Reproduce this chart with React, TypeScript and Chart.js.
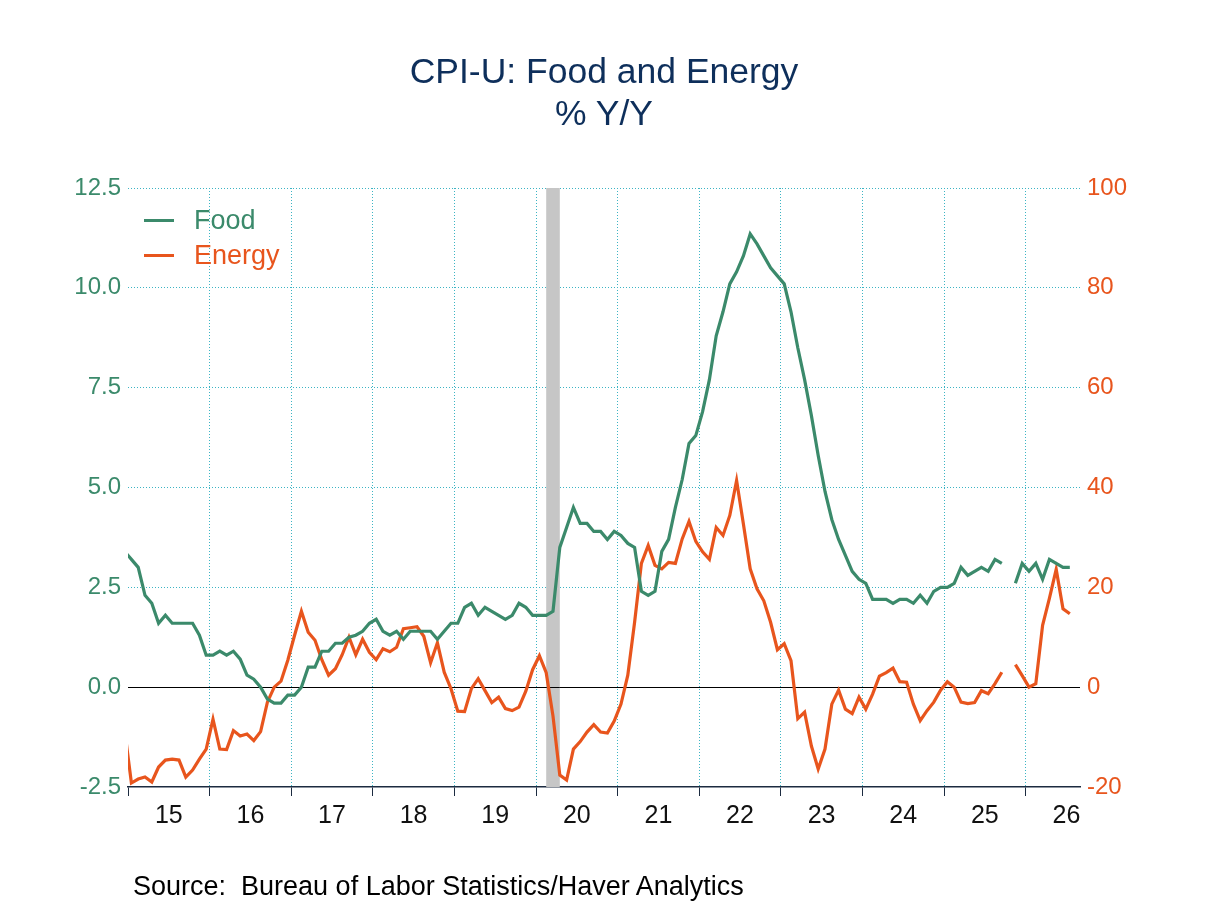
import { useEffect, useRef } from "react";
import { Chart, registerables, type Plugin } from "chart.js";

Chart.register(...registerables);

const FONT = "'Liberation Sans', Arial, Helvetica, sans-serif";

// monthly observations, Dec 2014 .. Jul 2026 (Oct 2025 not published)
const FIRST_YEAR = 2014;
const FIRST_MONTH = 12;

const YEAR_LABELS = ["15", "16", "17", "18", "19", "20", "21", "22", "23", "24", "25", "26"];

// % Y/Y, left axis
const FOOD = [
  3.4,
  3.2, 3.0, 2.3, 2.1, 1.6, 1.8, 1.6, 1.6, 1.6, 1.6, 1.3, 0.8,
  0.8, 0.9, 0.8, 0.9, 0.7, 0.3, 0.2, 0.0, -0.3, -0.4, -0.4, -0.2,
  -0.2, 0.0, 0.5, 0.5, 0.9, 0.9, 1.1, 1.1, 1.25, 1.3, 1.4, 1.6,
  1.7, 1.4, 1.3, 1.4, 1.2, 1.4, 1.4, 1.4, 1.4, 1.2, 1.4, 1.6,
  1.6, 2.0, 2.1, 1.8, 2.0, 1.9, 1.8, 1.7, 1.8, 2.1, 2.0, 1.8,
  1.8, 1.8, 1.9, 3.5, 4.0, 4.5, 4.1, 4.1, 3.9, 3.9, 3.7, 3.9,
  3.8, 3.6, 3.5, 2.4, 2.3, 2.4, 3.4, 3.7, 4.5, 5.2, 6.1, 6.3,
  6.9, 7.7, 8.8, 9.4, 10.1, 10.4, 10.8, 11.35, 11.1, 10.8, 10.5, 10.3,
  10.1, 9.4, 8.5, 7.7, 6.8, 5.8, 4.9, 4.2, 3.7, 3.3, 2.9, 2.7,
  2.6, 2.2, 2.2, 2.2, 2.1, 2.2, 2.2, 2.1, 2.3, 2.1, 2.4, 2.5,
  2.5, 2.6, 3.0, 2.8, 2.9, 3.0, 2.9, 3.2, 3.1, null, 2.6, 3.1,
  2.9, 3.1, 2.7, 3.2, 3.1, 3.0, 3.0,
];

// % Y/Y, right axis
const ENERGY = [
  -8.5,
  -19.2, -18.4, -18.0, -19.0, -16.0, -14.6, -14.4, -14.6, -18.0, -16.6, -14.4, -12.4,
  -6.4, -12.4, -12.5, -8.7, -9.8, -9.4, -10.7, -8.9, -3.0, 0.0, 1.2, 5.4,
  10.4, 15.2, 11.0, 9.4, 5.5, 2.4, 3.7, 6.5, 10.0, 6.5, 9.6, 7.0,
  5.5, 7.7, 7.1, 8.0, 11.7, 11.9, 12.1, 10.2, 4.9, 8.9, 3.0, -0.3,
  -4.8, -4.9, -0.3, 1.7, -0.7, -3.1, -2.0, -4.3, -4.7, -4.0, -0.8, 3.5,
  6.3, 2.9, -5.8, -17.6, -18.6, -12.4, -10.9, -9.0, -7.5, -9.0, -9.2, -6.8,
  -3.4, 2.4, 13.0, 24.8, 28.4, 24.4, 23.7, 25.0, 24.8, 29.7, 33.2, 29.2,
  27.1, 25.6, 32.0, 30.4, 34.4, 41.4, 32.7, 23.7, 19.7, 17.3, 13.0, 7.5,
  8.7, 5.3, -6.3, -5.0, -11.8, -16.4, -12.4, -3.4, -0.6, -4.4, -5.3, -2.0,
  -4.4, -1.4, 2.2, 2.9, 3.8, 1.1, 1.0, -3.4, -6.7, -4.7, -3.0, -0.6,
  1.1, 0.0, -3.0, -3.3, -3.1, -0.7, -1.3, 0.7, 3.0, null, 4.5, 2.3,
  0.0, 0.7, 12.4, 17.8, 23.6, 15.7, 14.7,
];

const LEFT_TICKS = [-2.5, 0, 2.5, 5, 7.5, 10, 12.5];
const RIGHT_TICKS = [-20, 0, 20, 40, 60, 80, 100];
const RECESSION = ["2020-02", "2020-04"];

const GREEN = "#3b8a6b";
const ORANGE = "#e8551d";
const GRID = "#3cb4c4";
const AXIS = "#1c2b40";
const NAVY = "#0e2f5b";

// x position in months since Jan 2015, points sit mid-month
function monthPos(label: string) {
  const [y, m] = label.split("-").map(Number);
  return (y - 2015) * 12 + (m - 1) + 0.5;
}

const MONTHS: string[] = FOOD.map((_, i) => {
  const t = FIRST_YEAR * 12 + FIRST_MONTH - 1 + i;
  return `${Math.floor(t / 12)}-${String((t % 12) + 1).padStart(2, "0")}`;
});

const X_MAX = YEAR_LABELS.length * 12 - 4;

const recessionPlugin: Plugin<"line"> = {
  id: "recession",
  beforeDatasetsDraw(chart) {
    const { ctx, chartArea, scales } = chart;
    const x0 = scales.x.getPixelForValue(monthPos(RECESSION[0]));
    const x1 = scales.x.getPixelForValue(monthPos(RECESSION[1]));
    const y0 = scales.y.getPixelForValue(0);
    ctx.save();
    ctx.fillStyle = "#c6c6c6";
    ctx.fillRect(x0, chartArea.top, x1 - x0, chartArea.bottom - chartArea.top);
    // zero line stays visible over the shading
    ctx.strokeStyle = "#000";
    ctx.lineWidth = 1;
    ctx.beginPath();
    ctx.moveTo(x0, Math.round(y0) + 0.5);
    ctx.lineTo(x1, Math.round(y0) + 0.5);
    ctx.stroke();
    ctx.restore();
  },
};

function CpiChart() {
  const canvasRef = useRef<HTMLCanvasElement>(null);
  const chartRef = useRef<Chart | null>(null);

  useEffect(() => {
    if (!canvasRef.current) return;
    chartRef.current?.destroy();

    const toPoints = (vals: (number | null)[]) =>
      vals.map((v, i) => ({ x: monthPos(MONTHS[i]), y: v }));

    chartRef.current = new Chart(canvasRef.current, {
      type: "line",
      data: {
        datasets: [
          {
            label: "Food",
            data: toPoints(FOOD),
            yAxisID: "y",
            borderColor: GREEN,
            borderWidth: 3.2,
            pointRadius: 0,
            spanGaps: false,
            clip: 0,
          },
          {
            label: "Energy",
            data: toPoints(ENERGY),
            yAxisID: "y2",
            borderColor: ORANGE,
            borderWidth: 3.2,
            pointRadius: 0,
            spanGaps: false,
            clip: 0,
          },
        ],
      },
      options: {
        responsive: false,
        animation: false,
        events: [],
        layout: { padding: { top: 188, left: 0, right: 0, bottom: 0 } },
        plugins: {
          legend: { display: false },
          tooltip: { enabled: false },
          title: { display: false },
        },
        scales: {
          x: {
            type: "linear",
            position: "bottom",
            min: 0,
            max: X_MAX,
            afterBuildTicks: (scale) => {
              const t: { value: number }[] = [];
              YEAR_LABELS.forEach((_, k) => {
                t.push({ value: k * 12 });
                t.push({ value: k * 12 + 6 });
              });
              scale.ticks = t;
            },
            afterFit: (scale) => {
              scale.height = 906 - 787;
            },
            grid: {
              color: (c) =>
                c.tick && c.tick.value % 12 === 0 && c.tick.value > 0 ? GRID : "transparent",
              tickColor: (c) => (c.tick && c.tick.value % 12 === 0 ? AXIS : "transparent"),
              tickLength: 9,
              lineWidth: 1,
            },
            border: {
              color: AXIS,
              width: 1.5,
              dash: (c) => (c.tick ? [1, 2] : []),
            },
            ticks: {
              autoSkip: false,
              maxRotation: 0,
              padding: 5,
              color: "#111",
              font: { family: FONT, size: 25 },
              callback: (v) => {
                const n = Number(v);
                return n % 12 === 6 ? YEAR_LABELS[(n - 6) / 12] : "";
              },
            },
          },
          y: {
            position: "left",
            min: -2.5,
            max: 12.5,
            afterBuildTicks: (scale) => {
              scale.ticks = LEFT_TICKS.map((value) => ({ value }));
            },
            afterFit: (scale) => {
              scale.width = 128;
            },
            grid: {
              color: (c) =>
                !c.tick ? GRID : c.tick.value === 0 ? "#000" : c.tick.value === -2.5 ? "transparent" : GRID,
              drawTicks: false,
              lineWidth: 1,
            },
            border: {
              display: false,
              dash: (c) => (c.tick && c.tick.value !== 0 ? [1, 2] : []),
            },
            ticks: {
              padding: 7,
              color: GREEN,
              font: { family: FONT, size: 24 },
              callback: (v) => Number(v).toFixed(1),
            },
          },
          y2: {
            position: "right",
            min: -20,
            max: 100,
            afterBuildTicks: (scale) => {
              scale.ticks = RIGHT_TICKS.map((value) => ({ value }));
            },
            afterFit: (scale) => {
              scale.width = 1208 - 1080;
            },
            grid: { drawOnChartArea: false, drawTicks: false },
            border: { display: false },
            ticks: {
              padding: 7,
              color: ORANGE,
              font: { family: FONT, size: 24 },
              callback: (v) => String(v),
            },
          },
        },
      },
      plugins: [recessionPlugin],
    });

    return () => {
      chartRef.current?.destroy();
      chartRef.current = null;
    };
  }, []);

  return <canvas ref={canvasRef} width={1208} height={906} style={{ display: "block" }} />;
}

export default function App() {
  const legend = [
    { name: "Food", color: GREEN },
    { name: "Energy", color: ORANGE },
  ];

  return (
    <div
      style={{
        position: "absolute",
        left: 0,
        top: 0,
        width: 1208,
        height: 906,
        background: "#fff",
        fontFamily: FONT,
        overflow: "hidden",
      }}
    >
      <CpiChart />

      {/* Title */}
      <div
        style={{
          position: "absolute",
          left: 0,
          top: 50,
          width: 1208,
          textAlign: "center",
          color: NAVY,
          fontSize: 35.5,
          lineHeight: "42px",
        }}
      >
        <div>CPI-U: Food and Energy</div>
        <div>% Y/Y</div>
      </div>

      {/* Legend */}
      <div style={{ position: "absolute", left: 144, top: 203 }}>
        {legend.map((l) => (
          <div
            key={l.name}
            style={{ display: "flex", alignItems: "center", height: 35, fontSize: 27, color: l.color }}
          >
            <span style={{ width: 30, height: 3, background: l.color, marginRight: 20 }} />
            <span>{l.name}</span>
          </div>
        ))}
      </div>

      {/* Source */}
      <div
        style={{
          position: "absolute",
          left: 133,
          top: 870,
          fontSize: 27,
          lineHeight: "32px",
          color: "#000",
          whiteSpace: "pre",
        }}
      >
        {"Source:  Bureau of Labor Statistics/Haver Analytics"}
      </div>
    </div>
  );
}
